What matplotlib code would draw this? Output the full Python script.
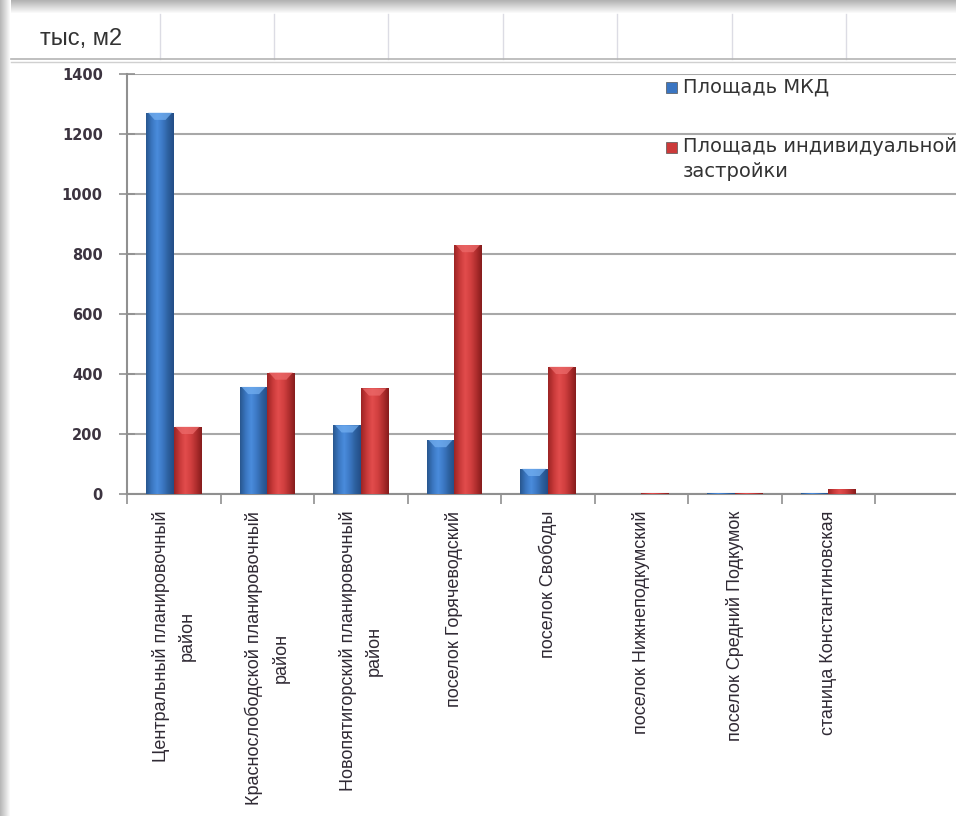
import numpy as np
import matplotlib
matplotlib.use("Agg")
import matplotlib.pyplot as plt
from matplotlib.colors import LinearSegmentedColormap
from matplotlib.patches import Rectangle, Polygon
from matplotlib.lines import Line2D

# --- dati (tыс. м2) ---
categories = [
    "Центральный планировочный\nрайон",
    "Краснослободской планировочный\nрайон",
    "Новопятигорский планировочный\nрайон",
    "поселок Горячеводский",
    "поселок Свободы",
    "поселок Нижнеподкумский",
    "поселок Средний Подкумок",
    "станица Константиновская",
]
area_mkd = [1271, 357, 229, 180, 84, 0, 3, 3]
area_individual = [224, 405, 352, 830, 424, 3, 3, 16]
series_names = ["Площадь МКД", "Площадь индивидуальной\nзастройки"]
y_ticks = [0, 200, 400, 600, 800, 1000, 1200, 1400]
unit_label = "тыс, м2"

W, H = 956, 816
fig = plt.figure(figsize=(W / 100, H / 100), dpi=100, facecolor="white")

# sfondo "foglio Excel" in pixel
bg = fig.add_axes([0, 0, 1, 1], zorder=0)
bg.set_xlim(0, W)
bg.set_ylim(H, 0)
bg.axis("off")
for i in range(14):
    c = 0.70 + 0.30 * i / 13
    bg.add_patch(Rectangle((0, i), W, 1, color=(c, c, c), lw=0))
for i in range(11):
    c = 0.72 + 0.28 * i / 10
    bg.add_patch(Rectangle((i, 0), 1, H, color=(c, c, c), lw=0))
for xv in [160, 274, 388, 503, 617, 732, 846]:
    bg.add_line(Line2D([xv, xv], [14, 59], color="#dcdce4", lw=1))
bg.add_line(Line2D([11, W], [59, 59], color="#b4b4b4", lw=1.2))
bg.add_line(Line2D([11, W], [62, 62], color="#d0d0d0", lw=1))
bg.text(40, 39, unit_label, fontsize=17, color="#333333",
        family=["Liberation Sans", "DejaVu Sans"], va="center", ha="left")

# --- grafico ---
left, right = 127, 968.5
top, bottom = 74, 494
ax = fig.add_axes([left / W, (H - bottom) / H, (right - left) / W, (bottom - top) / H], zorder=1)
ax.patch.set_alpha(0)

x = np.arange(len(categories))
bw = 0.292
blue_cmap = LinearSegmentedColormap.from_list(
    "b", ["#28578f", "#3a76c0", "#4a8cdc", "#3c78c4", "#2d609f", "#234d86"])
red_cmap = LinearSegmentedColormap.from_list(
    "r", ["#9c2424", "#c83a3a", "#e24c4c", "#d24040", "#b02e2e", "#861c1c"])

bars_b = ax.bar(x - bw / 2, area_mkd, bw, color="#3a75c2", zorder=3)
bars_r = ax.bar(x + bw / 2, area_individual, bw, color="#cc3a3a", zorder=3)

grad = np.linspace(0, 1, 64).reshape(1, -1)
for bars, cmap, cap in [(bars_b, blue_cmap, "#72aef0"), (bars_r, red_cmap, "#ec6a6a")]:
    for rect in bars:
        x0, w, h = rect.get_x(), rect.get_width(), rect.get_height()
        if h <= 0:
            continue
        im = ax.imshow(grad, extent=[x0, x0 + w, 0, h], aspect="auto", cmap=cmap, zorder=3.5)
        im.set_clip_path(rect)
        if h > 40:
            d = 24
            ax.add_patch(Polygon([(x0 + 0.06 * w, h), (x0 + 0.94 * w, h),
                                  (x0 + 0.7 * w, h - d), (x0 + 0.3 * w, h - d)],
                                 closed=True, color=cap, alpha=0.75, lw=0, zorder=4))

ax.set_xlim(-0.5, len(categories) + 0.5)
ax.set_ylim(0, 1400)
ax.set_yticks(y_ticks)
ax.set_yticklabels([str(v) for v in y_ticks], fontsize=10.5, fontweight="bold",
                   color="#3c3440", family="DejaVu Sans")
ax.yaxis.grid(True, color="#a8a8a8", lw=1.5, zorder=1)
ax.tick_params(axis="y", direction="inout", length=11, width=1.2, color="#909090", pad=12)

ax.set_xticks(x)
ax.set_xticklabels(categories, rotation=90, ha="center", va="top", fontsize=13,
                   color="#302a34", family=["Liberation Sans", "DejaVu Sans"],
                   multialignment="center", linespacing=1.6)
ax.set_xticks(np.arange(len(categories) + 1) - 0.5, minor=True)
ax.tick_params(axis="x", which="major", length=0, pad=12)
ax.tick_params(axis="x", which="minor", direction="out", length=7, width=1.2, color="#909090")

for s in ["top", "right"]:
    ax.spines[s].set_visible(False)
for s in ["left", "bottom"]:
    ax.spines[s].set_color("#909090")
    ax.spines[s].set_linewidth(1.5)

# legenda manuale
legend_colors = ["#3a75c2", "#cc3a3a"]
legend_y = [88, 148]
for name, col, yy in zip(series_names, legend_colors, legend_y):
    bg.add_patch(Rectangle((666, yy - 6), 11, 11, facecolor=col, edgecolor="#555555",
                           lw=0.5, zorder=5))
    bg.text(683, yy - 11, name, fontsize=14, color="#333333", family="DejaVu Sans",
            va="top", ha="left", linespacing=1.4, zorder=5)

fig.savefig("out.png", dpi=100, facecolor="white")
